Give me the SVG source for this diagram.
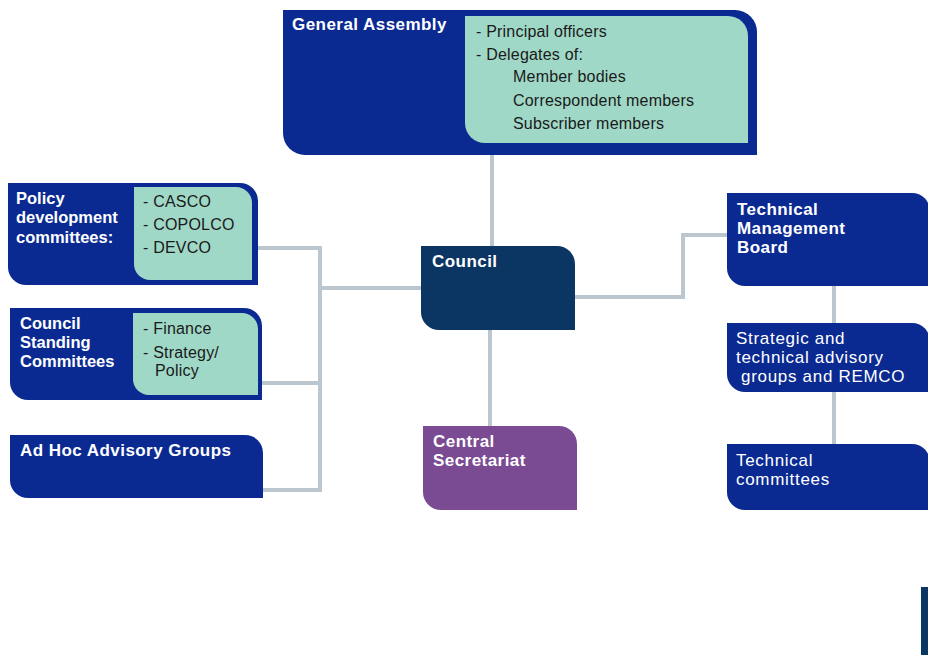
<svg xmlns="http://www.w3.org/2000/svg" width="928" height="655" viewBox="0 0 928 655">
<style>
.navy{fill:#0a2a92}
.dark{fill:#0b3563}
.purple{fill:#7a4b93}
.green{fill:#a0d8c7}
.conn{fill:none;stroke:#bcc6ce;stroke-width:4}
.t{font-family:"Liberation Sans",Arial,sans-serif;font-weight:bold;font-size:17px;fill:#ffffff;letter-spacing:0.45px}
.r{font-family:"Liberation Sans",Arial,sans-serif;font-size:17px;fill:#ffffff;letter-spacing:0.7px}
.g{font-family:"Liberation Sans",Arial,sans-serif;font-size:16px;fill:#1a1a1a;letter-spacing:0.2px}
</style>
<rect width="928" height="655" fill="#ffffff"/>
<g id="connectors">
<path class="conn" d="M492,155 V246"/>
<path class="conn" d="M490,330 V426"/>
<path class="conn" d="M258,248 H320 V490 H263"/>
<path class="conn" d="M262,383 H320"/>
<path class="conn" d="M320,288 H421"/>
<path class="conn" d="M575,297 H683 V235 H727"/>
<path class="conn" d="M834,286 V323"/>
<path class="conn" d="M834,392 V444"/>
</g>
<g id="general-assembly">
<path class="navy" d="M283,10 H735 A22,22 0 0 1 757,32 V155 H305 A22,22 0 0 1 283,133 Z"/>
<path class="green" d="M465,16 H728 A20,20 0 0 1 748,36 V143 H485 A20,20 0 0 1 465,123 Z"/>
<text class="t" x="292" y="30">General Assembly</text>
<text class="g" x="476" y="37">- Principal officers</text>
<text class="g" x="476" y="60">- Delegates of:</text>
<text class="g" x="513" y="82">Member bodies</text>
<text class="g" x="513" y="106">Correspondent members</text>
<text class="g" x="513" y="129">Subscriber members</text>
</g>
<g id="policy-development">
<path class="navy" d="M8,183 H240 A18,18 0 0 1 258,201 V285 H26 A18,18 0 0 1 8,267 Z"/>
<path class="green" d="M134,187 H236 A16,16 0 0 1 252,203 V280 H150 A16,16 0 0 1 134,264 Z"/>
<text class="t" x="16" y="204" style="font-size:16.5px;letter-spacing:0">Policy</text>
<text class="t" x="16" y="223" style="font-size:16.5px;letter-spacing:0">development</text>
<text class="t" x="16" y="243" style="font-size:16.5px;letter-spacing:0">committees:</text>
<text class="g" x="143" y="207">- CASCO</text>
<text class="g" x="143" y="230">- COPOLCO</text>
<text class="g" x="143" y="253">- DEVCO</text>
</g>
<g id="council-standing">
<path class="navy" d="M10,308 H244 A18,18 0 0 1 262,326 V400 H28 A18,18 0 0 1 10,382 Z"/>
<path class="green" d="M133,313 H242 A16,16 0 0 1 258,329 V395 H149 A16,16 0 0 1 133,379 Z"/>
<text class="t" x="20" y="329" style="font-size:16.5px;letter-spacing:0">Council</text>
<text class="t" x="20" y="348" style="font-size:16.5px;letter-spacing:0">Standing</text>
<text class="t" x="20" y="367" style="font-size:16.5px;letter-spacing:0">Committees</text>
<text class="g" x="143" y="334">- Finance</text>
<text class="g" x="143" y="358">- Strategy/</text>
<text class="g" x="155" y="376">Policy</text>
</g>
<g id="ad-hoc">
<path class="navy" d="M10,435 H245 A18,18 0 0 1 263,453 V498 H28 A18,18 0 0 1 10,480 Z"/>
<text class="t" x="20" y="456">Ad Hoc Advisory Groups</text>
</g>
<g id="council">
<path class="dark" d="M421,246 H557 A18,18 0 0 1 575,264 V330 H439 A18,18 0 0 1 421,312 Z"/>
<text class="t" x="432" y="267">Council</text>
</g>
<g id="central-secretariat">
<path class="purple" d="M423,426 H559 A18,18 0 0 1 577,444 V510 H441 A18,18 0 0 1 423,492 Z"/>
<text class="t" x="433" y="447">Central</text>
<text class="t" x="433" y="466">Secretariat</text>
</g>
<g id="technical-management-board">
<path class="navy" d="M727,193 H912 A18,18 0 0 1 930,211 V286 H745 A18,18 0 0 1 727,268 Z"/>
<text class="t" x="737" y="215">Technical</text>
<text class="t" x="737" y="234">Management</text>
<text class="t" x="737" y="253">Board</text>
</g>
<g id="strategic-advisory">
<path class="navy" d="M727,323 H912 A18,18 0 0 1 930,341 V392 H745 A18,18 0 0 1 727,374 Z"/>
<text class="r" x="736" y="344">Strategic and</text>
<text class="r" x="736" y="363">technical advisory</text>
<text class="r" x="741" y="382">groups and REMCO</text>
</g>
<g id="technical-committees">
<path class="navy" d="M727,444 H912 A18,18 0 0 1 930,462 V510 H745 A18,18 0 0 1 727,492 Z"/>
<text class="r" x="736" y="466">Technical</text>
<text class="r" x="736" y="485">committees</text>
</g>
<rect x="921" y="587" width="8" height="68" fill="#0b3563"/>
</svg>
